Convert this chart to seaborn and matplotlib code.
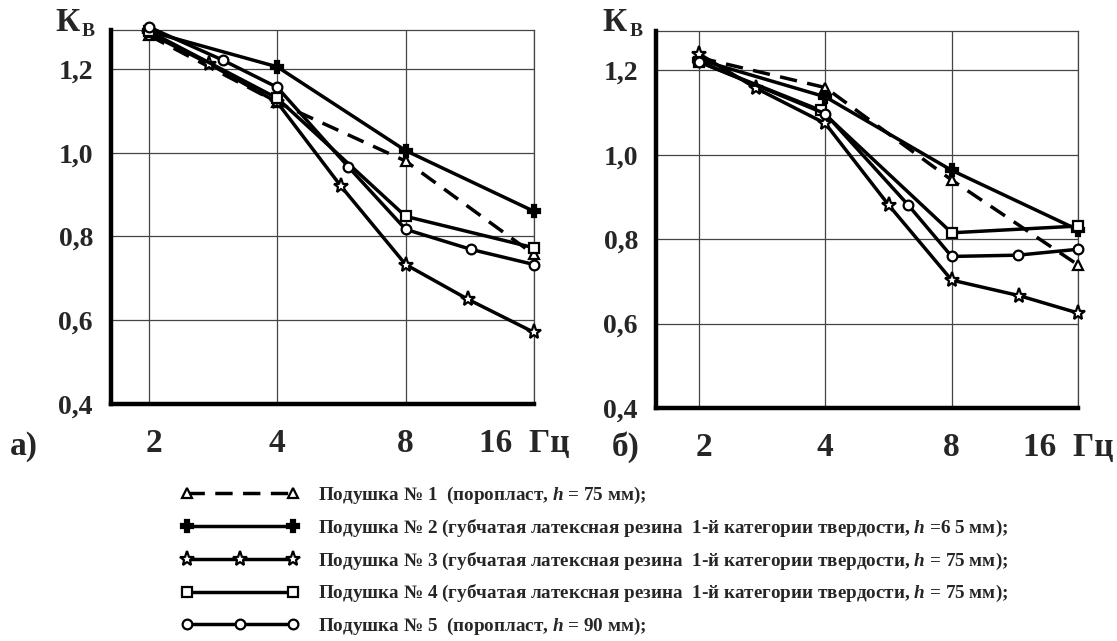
import numpy as np
import pandas as pd
import matplotlib
matplotlib.use("Agg")
import matplotlib.pyplot as plt
import matplotlib.transforms as mtransforms
from matplotlib.ticker import NullLocator, FixedLocator
from matplotlib.legend_handler import HandlerLine2D
import seaborn as sns

# ---------------- data ----------------
freq_ticks = [2, 4, 8, 16]
freq_labels = ["2", "4", "8", "16  Гц"]
y_ticks = [0.4, 0.6, 0.8, 1.0, 1.2]
y_labels = ["0,4", "0,6", "0,8", "1,0", "1,2"]

# panel а)
a1_x = [2, 4, 8, 16]
a1_y = [1.280, 1.120, 0.980, 0.757]
a2_x = [2, 4, 8, 16]
a2_y = [1.290, 1.205, 1.005, 0.860]
a3_x = [2, 2.76, 4, 5.64, 8, 11.2, 16]
a3_y = [1.285, 1.213, 1.120, 0.920, 0.733, 0.650, 0.571]
a4_x = [2, 4, 8, 16]
a4_y = [1.290, 1.130, 0.848, 0.773]
a5_x = [2, 2.98, 4, 5.86, 8, 11.4, 16]
a5_y = [1.300, 1.221, 1.156, 0.967, 0.817, 0.769, 0.733]

# panel б)
b1_x = [2, 4, 8, 16]
b1_y = [1.230, 1.159, 0.940, 0.739]
b2_x = [2, 4, 8, 16]
b2_y = [1.225, 1.137, 0.963, 0.822]
b3_x = [2, 2.74, 4, 5.66, 8, 11.6, 16]
b3_y = [1.239, 1.157, 1.074, 0.881, 0.703, 0.666, 0.625]
b4_x = [2, 3.9, 8, 16]
b4_y = [1.220, 1.105, 0.815, 0.831]
b5_x = [2, 4, 6.3, 8, 11.5, 16]
b5_y = [1.220, 1.097, 0.881, 0.759, 0.762, 0.776]

legend_labels = [
    "Подушка № 1  (поропласт, $h$ = 75 мм);",
    "Подушка № 2 (губчатая латексная резина  1-й категории твердости, $h$ =6 5 мм);",
    "Подушка № 3 (губчатая латексная резина  1-й категории твердости, $h$ = 75 мм);",
    "Подушка № 4 (губчатая латексная резина  1-й категории твердости, $h$ = 75 мм);",
    "Подушка № 5  (поропласт, $h$ = 90 мм);",
]

# ---------------- style ----------------
sns.set_theme(style="white")
plt.rcParams["font.family"] = ["Liberation Serif", "DejaVu Serif"]
plt.rcParams["font.weight"] = "bold"
plt.rcParams["mathtext.fontset"] = "custom"
plt.rcParams["mathtext.rm"] = "Liberation Serif:bold"
plt.rcParams["mathtext.it"] = "Liberation Serif:italic:bold"
plt.rcParams["mathtext.bf"] = "Liberation Serif:bold"

W, H = 1117, 641
fig = plt.figure(figsize=(W / 100, H / 100), dpi=100)
fig.patch.set_facecolor("white")

def fx(px):
    return px / W

def fy(py):
    return 1 - py / H

series_style = [
    dict(marker="^", ls=(0, (5, 3)), mfc="white", ms=7),
    dict(marker="P", ls="-", mfc="black", ms=8),
    dict(marker="*", ls="-", mfc="white", ms=11),
    dict(marker="s", ls="-", mfc="white", ms=7),
    dict(marker="o", ls="-", mfc="white", ms=7),
]

def draw_panel(ax, data, xleft):
    for (xs, ys), st in zip(data, series_style):
        df = pd.DataFrame({"f": xs, "k": ys})
        sns.lineplot(data=df, x="f", y="k", ax=ax, color="black", lw=2.5,
                     linestyle=st["ls"], marker=st["marker"], markersize=st["ms"],
                     markerfacecolor=st["mfc"], markeredgecolor="black",
                     markeredgewidth=1.6, estimator=None, sort=False, zorder=5,
                     clip_on=False)
    ax.set_xscale("log", base=2)
    ax.set_xlim(xleft, 16)
    ax.set_ylim(0.4, 1.293)
    ax.xaxis.set_major_locator(FixedLocator(freq_ticks))
    ax.xaxis.set_minor_locator(NullLocator())
    ax.set_xticks(freq_ticks)
    ax.set_xticklabels(freq_labels, fontsize=24, fontweight="bold")
    ax.set_yticks(y_ticks)
    ax.set_yticklabels(y_labels, fontsize=20, fontweight="bold")
    ax.tick_params(axis="both", length=0)
    ax.tick_params(axis="x", pad=17)
    ax.tick_params(axis="y", pad=13)
    ax.grid(True, color="#444444", lw=0.9)
    ax.set_xlabel("")
    ax.set_ylabel("")
    ax.set_facecolor("white")
    for side in ["left", "bottom"]:
        ax.spines[side].set_linewidth(3.2)
        ax.spines[side].set_color("black")
        ax.spines[side].set_zorder(4)
    for side in ["top", "right"]:
        ax.spines[side].set_linewidth(0.9)
        ax.spines[side].set_color("#444444")
    labs = ax.get_xticklabels()
    labs[0].set_transform(labs[0].get_transform() + mtransforms.ScaledTranslation(5 / 100, 0, fig.dpi_scale_trans))
    labs[-1].set_transform(labs[-1].get_transform() + mtransforms.ScaledTranslation(-10 / 100, 0, fig.dpi_scale_trans))

ax1 = fig.add_axes([fx(111), fy(404), fx(534) - fx(111), fy(30) - fy(404)])
ax2 = fig.add_axes([fx(656), fy(408), fx(1078) - fx(656), fy(31) - fy(408)])

draw_panel(ax1, [(a1_x, a1_y), (a2_x, a2_y), (a3_x, a3_y), (a4_x, a4_y), (a5_x, a5_y)], 1.629)
draw_panel(ax2, [(b1_x, b1_y), (b2_x, b2_y), (b3_x, b3_y), (b4_x, b4_y), (b5_x, b5_y)], 1.58)

# axis titles "Кв"
for kx, vx in [(55, 82), (602, 630)]:
    fig.text(fx(kx), fy(31), "К", fontsize=24, fontweight="bold", ha="left", va="baseline")
    fig.text(fx(vx), fy(36), "В", fontsize=14, fontweight="bold", ha="left", va="baseline")

# panel letters
fig.text(fx(10), fy(447), "а)", fontsize=24, fontweight="bold", ha="left", va="center")
fig.text(fx(612), fy(447), "б)", fontsize=24, fontweight="bold", ha="left", va="center")

# legend
handles = ax1.lines[:5]
hmap = {handles[2]: HandlerLine2D(numpoints=3), handles[4]: HandlerLine2D(numpoints=3)}
fig.legend(handles, legend_labels, loc="upper left", bbox_to_anchor=(fx(181), fy(485)),
           frameon=False, numpoints=2, handlelength=6.15, handletextpad=1.02,
           labelspacing=0.61, borderpad=0, borderaxespad=0, handler_map=hmap,
           prop={"family": ["Liberation Serif", "DejaVu Serif"], "weight": "bold", "size": 13.75})

fig.savefig("out.png", dpi=100, facecolor="white")
